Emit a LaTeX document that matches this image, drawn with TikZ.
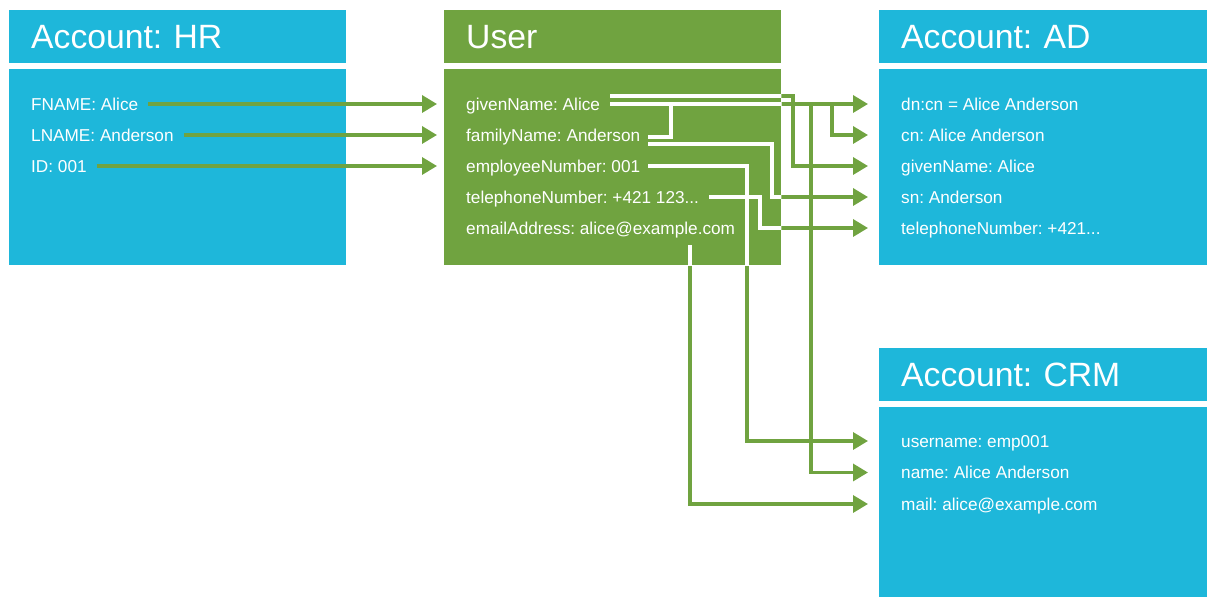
\documentclass[tikz,border=0pt]{standalone}
\usepackage{fontspec}
\setmainfont{Liberation Sans}
\frenchspacing
\usetikzlibrary{arrows.meta}

\definecolor{acctblue}{HTML}{1EB7DA}
\definecolor{usergreen}{HTML}{70A340}

\tikzset{
  head/.style={anchor=north west, minimum height=53pt, inner xsep=22pt, inner ysep=0pt,
    text width=#1, align=left, text=white, font=\fontsize{33.7}{36}\selectfont,
    text height=24.1pt, text depth=0pt},
  head/.default=293pt,
  body/.style={anchor=north west, minimum width=#1, minimum height=196pt, inner sep=0pt},
  body/.default=337pt,
  field/.style={anchor=west, inner sep=0pt, text=white, font=\fontsize{17.2}{20}\selectfont,
    text height=12.3pt, text depth=0pt},
  link/.style={usergreen, line width=3.4pt, -{Triangle[length=15pt,width=17pt]}},
}

% the User -> AD / CRM mappings, drawn twice (green, then white inside the User box)
\newcommand\maplinks[1]{%
  \draw[#1] ([xshift=10pt,yshift=8pt]gname.east) -| ([xshift=-108pt]adgn.west) -- ([xshift=-33pt]adgn.west);
  \draw[#1] ([xshift=10pt]gname.east) -- ([xshift=-33pt]dn.west);
  \draw[#1] ([xshift=10pt]gname.east) -| ([xshift=-69pt]cn.west) -- ([xshift=-33pt]cn.west);
  \draw[#1] ([xshift=10pt]gname.east) -| ([xshift=-90pt]name.west) -- ([xshift=-33pt]name.west);
  \draw[#1] ([xshift=8pt,yshift=-9pt]fmname.east) -| ([xshift=-129pt]sn.west) -- ([xshift=-33pt]sn.west);
  \draw[#1] ([xshift=8pt]empno.east) -| ([xshift=-154pt]uname.west) -- ([xshift=-33pt]uname.west);
  \draw[#1] ([xshift=10pt]phone.east) -| ([xshift=-141pt]adphone.west) -- ([xshift=-33pt]adphone.west);
  \draw[#1] ([xshift=224pt,yshift=-17pt]email.west) |- ([xshift=-33pt]mail.west);
}

\begin{document}
\begin{tikzpicture}[x=1pt,y=1pt]
\useasboundingbox (0,0) rectangle (1207,597);

% boxes
\node[head, fill=acctblue] (hrhead) at (9,587) {Account: HR};
\node[body, fill=acctblue] (hrbody) at (9,528) {};
\node[head, fill=usergreen] (userhead) at (444,587) {User};
\node[body, fill=usergreen] (userbody) at (444,528) {};
\node[head=284pt, fill=acctblue] (adhead) at (879,587) {Account: AD};
\node[body=328pt, fill=acctblue] (adbody) at (879,528) {};
\node[head=284pt, fill=acctblue] (crmhead) at (879,249) {Account: CRM};
\node[body=328pt, fill=acctblue, minimum height=190pt] (crmbody) at (879,190) {};

% fields
\node[field] (fname) at (31,493) {FNAME: Alice};
\node[field] (lname) at (31,462) {LNAME: Anderson};
\node[field] (hrid) at (31,431) {ID: 001};

\node[field] (gname) at (466,493) {givenName: Alice};
\node[field] (fmname) at (466,462) {familyName: Anderson};
\node[field] (empno) at (466,431) {employeeNumber: 001};
\node[field] (phone) at (466,400) {telephoneNumber: +421 123...};
\node[field] (email) at (466,369) {emailAddress: alice@example.com};

\node[field] (dn) at (901,493) {dn:cn = Alice Anderson};
\node[field] (cn) at (901,462) {cn: Alice Anderson};
\node[field] (adgn) at (901,431) {givenName: Alice};
\node[field] (sn) at (901,400) {sn: Anderson};
\node[field] (adphone) at (901,369) {telephoneNumber: +421...};

\node[field] (uname) at (901,156) {username: emp001};
\node[field] (name) at (901,124.5) {name: Alice Anderson};
\node[field] (mail) at (901,93) {mail: alice@example.com};

% HR -> User
\draw[link] ([xshift=10pt]fname.east) -- ([xshift=-29pt]gname.west);
\draw[link] ([xshift=10pt]lname.east) -- ([xshift=-29pt]fmname.west);
\draw[link] ([xshift=10pt]hrid.east) -- ([xshift=-29pt]empno.west);

% User -> AD, CRM
\maplinks{link}
\begin{scope}
\clip (userbody.south west) rectangle (userbody.north east);
\maplinks{link,white,-}
\coordinate (join) at (671,493);
\draw[link,white,-] ([xshift=8pt,yshift=-2pt]fmname.east) -| (join);
\end{scope}

\end{tikzpicture}
\end{document}
